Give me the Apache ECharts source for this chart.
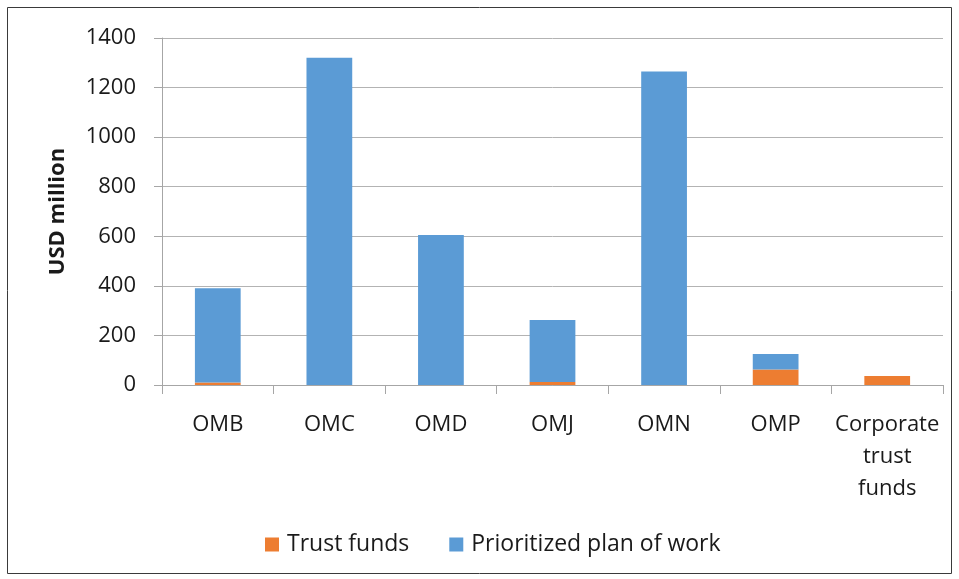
<!DOCTYPE html>
<html>
<head>
<meta charset="utf-8">
<style>
  html, body { margin: 0; padding: 0; background: #ffffff; }
  #chart { width: 959px; height: 579px; }
</style>
<script src="https://cdn.jsdelivr.net/npm/echarts@6/dist/echarts.min.js"></script>
</head>
<body>
<div id="chart"></div>
<script>
// Funding by organisational unit (USD million)
const categories = ['OMB', 'OMC', 'OMD', 'OMJ', 'OMN', 'OMP', 'Corporate\ntrust\nfunds'];
const trustFunds = [10, 0, 0, 12, 0, 63, 36];
const prioritizedPlan = [380, 1320, 605, 250, 1265, 62, 0];
const yTicks = { min: 0, max: 1400, interval: 200 };

const FONT = '"Open Sans", "Noto Sans", sans-serif';
const TEXT = '#1a1a1a';

const chart = echarts.init(document.getElementById('chart'), null, { renderer: 'canvas' });

chart.setOption({
  animation: false,
  backgroundColor: '#ffffff',
  textStyle: { fontFamily: FONT },
  graphic: [{
    type: 'rect',
    shape: { x: 7.5, y: 7.5, width: 944, height: 566 },
    style: { fill: 'none', stroke: '#3a3a3a', lineWidth: 1 },
    silent: true
  }],
  grid: { left: 162, right: 16, top: 38, bottom: 194, containLabel: false },
  legend: {
    left: 260,
    top: 528,
    itemWidth: 14,
    itemHeight: 14,
    itemGap: 40,
    icon: 'rect',
    textStyle: { fontFamily: FONT, fontSize: 23, color: TEXT, padding: [0, 0, 0, 3] },
    data: ['Trust funds', 'Prioritized plan of work']
  },
  xAxis: {
    type: 'category',
    data: categories,
    axisLine: { lineStyle: { color: '#a6a6a6', width: 1 } },
    axisTick: { show: true, alignWithLabel: false, length: 9, lineStyle: { color: '#a6a6a6' } },
    axisLabel: {
      fontFamily: FONT, fontSize: 22, color: TEXT, margin: 24,
      lineHeight: 32, interval: 0, align: 'center'
    }
  },
  yAxis: {
    type: 'value',
    min: yTicks.min,
    max: yTicks.max,
    interval: yTicks.interval,
    name: 'USD million',
    nameLocation: 'middle',
    nameRotate: 90,
    nameGap: 93,
    nameTextStyle: { fontFamily: FONT, fontSize: 22, fontWeight: 'bold', color: TEXT },
    axisLine: { show: true, lineStyle: { color: '#a6a6a6', width: 1 } },
    axisTick: { show: true, length: 8, lineStyle: { color: '#a6a6a6' } },
    axisLabel: {
      fontFamily: FONT, fontSize: 22, color: TEXT, margin: 26,
      formatter: (v) => String(v)
    },
    splitLine: { show: true, lineStyle: { color: '#b3b3b3', width: 1 } }
  },
  series: [
    {
      name: 'Trust funds',
      type: 'bar',
      stack: 'total',
      data: trustFunds,
      barWidth: '41%',
      itemStyle: { color: '#ED7D31' }
    },
    {
      name: 'Prioritized plan of work',
      type: 'bar',
      stack: 'total',
      data: prioritizedPlan,
      barWidth: '41%',
      itemStyle: { color: '#5B9BD5' }
    }
  ]
});
</script>
</body>
</html>
